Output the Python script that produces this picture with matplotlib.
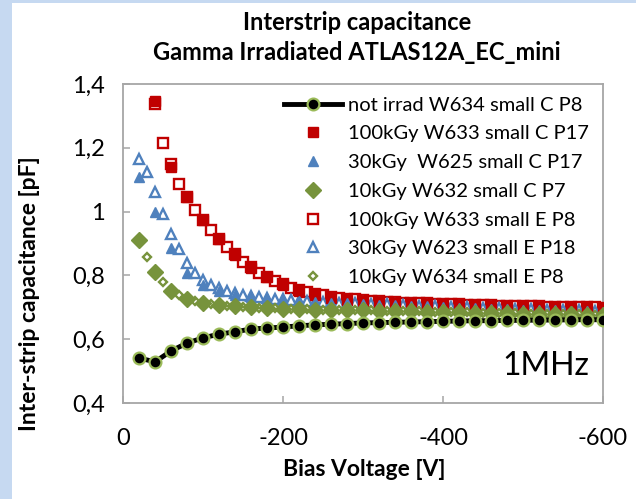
import numpy as np
import matplotlib
matplotlib.use('Agg')
import matplotlib.pyplot as plt
from matplotlib.patches import Rectangle
from matplotlib.ticker import FuncFormatter

plt.rcParams['font.family'] = ['Lato', 'DejaVu Sans']

# ---------------- data ----------------
v_c20 = np.arange(-20, -601, -20)      # -20 ... -600 step 20
v_c40 = np.arange(-40, -601, -20)      # -40 ... -600 step 20
v_e20 = np.arange(-20, -601, -10)      # -20 ... -600 step 10
v_e40 = np.arange(-40, -601, -10)      # -40 ... -600 step 10

not_irrad_W634_C = [0.541, 0.529, 0.563, 0.588, 0.604, 0.616, 0.623, 0.632, 0.635, 0.638,
                    0.642, 0.645, 0.647, 0.649, 0.651, 0.652, 0.653, 0.654, 0.655, 0.656,
                    0.657, 0.658, 0.658, 0.659, 0.659, 0.660, 0.660, 0.661, 0.661, 0.661]

kGy100_W633_C = [1.347, 1.140, 1.046, 0.974, 0.914, 0.864, 0.823, 0.795, 0.770, 0.750,
                 0.737, 0.730, 0.724, 0.720, 0.717, 0.714, 0.712, 0.710, 0.709, 0.707,
                 0.706, 0.705, 0.704, 0.703, 0.702, 0.701, 0.700, 0.699, 0.698]

kGy30_W625_C = [1.108, 0.999, 0.886, 0.808, 0.770, 0.750, 0.738, 0.731, 0.726, 0.722,
                0.719, 0.716, 0.714, 0.712, 0.710, 0.708, 0.706, 0.704, 0.703, 0.701,
                0.699, 0.698, 0.696, 0.695, 0.693, 0.692, 0.690, 0.689, 0.688, 0.686]

kGy10_W632_C = [0.911, 0.811, 0.752, 0.727, 0.714, 0.707, 0.703, 0.700, 0.698, 0.696,
                0.694, 0.693, 0.692, 0.691, 0.690, 0.689, 0.688, 0.687, 0.686, 0.685,
                0.684, 0.683, 0.682, 0.681, 0.680, 0.679, 0.679, 0.678, 0.677, 0.677]

kGy100_W633_E = [1.338, 1.215, 1.150, 1.087, 1.045, 1.005, 0.975, 0.942, 0.915, 0.889,
                 0.866, 0.842, 0.825, 0.808, 0.795, 0.781, 0.772, 0.762, 0.754, 0.747,
                 0.742, 0.737, 0.733, 0.730, 0.727, 0.725, 0.723, 0.721, 0.719, 0.718,
                 0.716, 0.715, 0.714, 0.713, 0.712, 0.711, 0.710, 0.709, 0.709, 0.708,
                 0.707, 0.707, 0.706, 0.705, 0.705, 0.704, 0.704, 0.703, 0.703, 0.702,
                 0.702, 0.701, 0.701, 0.700, 0.700, 0.700, 0.699]

kGy30_W623_E = [1.165, 1.124, 1.061, 0.992, 0.930, 0.883, 0.839, 0.808, 0.787, 0.771,
                0.759, 0.750, 0.744, 0.739, 0.735, 0.732, 0.729, 0.727, 0.725, 0.723,
                0.721, 0.720, 0.718, 0.717, 0.716, 0.715, 0.714, 0.713, 0.712, 0.711,
                0.710, 0.709, 0.708, 0.707, 0.706, 0.705, 0.704, 0.704, 0.703, 0.702,
                0.701, 0.700, 0.700, 0.699, 0.698, 0.697, 0.697, 0.696, 0.695, 0.694,
                0.694, 0.693, 0.692, 0.691, 0.691, 0.690, 0.689, 0.689, 0.688]

kGy10_W634_E = [0.905, 0.858, 0.812, 0.779, 0.755, 0.740, 0.728, 0.720, 0.714, 0.710,
                0.707, 0.705, 0.703, 0.701, 0.700, 0.699, 0.698, 0.697, 0.696, 0.695,
                0.694, 0.694, 0.693, 0.693, 0.692, 0.692, 0.691, 0.691, 0.690,
                0.690, 0.689, 0.689, 0.688, 0.688, 0.687, 0.687, 0.686, 0.686, 0.685,
                0.685, 0.684, 0.684, 0.683, 0.683, 0.682, 0.682, 0.681, 0.681, 0.680,
                0.680, 0.679, 0.679, 0.679, 0.678, 0.678, 0.678, 0.677, 0.677, 0.677]

labels = ["not irrad W634 small C P8", "100kGy W633 small C P17", "30kGy  W625 small C P17",
          "10kGy W632 small C P7", "100kGy W633 small E P8", "30kGy W623 small E P18",
          "10kGy W634 small E P8"]

x_ticks = [0, -200, -400, -600]
y_ticks = [0.4, 0.6, 0.8, 1.0, 1.2, 1.4]

RED = '#C00000'
BLUE = '#4F81BD'
GREEN = '#77933C'
LGREEN = '#9BBB59'

# ---------------- figure ----------------
W, H = 636, 499
fig = plt.figure(figsize=(W / 100, H / 100), dpi=100)
fig.patch.set_facecolor('white')
fig.patches.append(Rectangle((0, 0), 12 / W, 1, transform=fig.transFigure,
                             facecolor='#C6D9F1', edgecolor='none', zorder=0))
fig.patches.append(Rectangle((0, 1 - 3 / H), 1, 3 / H, transform=fig.transFigure,
                             facecolor='#C6D9F1', edgecolor='none', zorder=0))

ax = fig.add_axes([123 / W, 1 - 403 / H, 480 / W, 319 / H])

# E (open) series drawn first so that filled ones sit on top
h_e100, = ax.plot(v_e40, kGy100_W633_E, ls='none', marker='s', ms=6.8, mfc='white',
                  mec=RED, mew=1.7, label=labels[4], zorder=3)
h_e30, = ax.plot(v_e20, kGy30_W623_E, ls='none', marker='^', ms=7.2, mfc='white',
                 mec=BLUE, mew=1.7, label=labels[5], zorder=3)
h_e10, = ax.plot(v_e20, kGy10_W634_E, ls='none', marker='D', ms=4.2, mfc='white',
                 mec=GREEN, mew=1.7, label=labels[6], zorder=3)

h_c100, = ax.plot(v_c40, kGy100_W633_C, ls='none', marker='s', ms=7.3, mfc=RED,
                  mec=RED, label=labels[1], zorder=4)
h_c30, = ax.plot(v_c20, kGy30_W625_C, ls='none', marker='^', ms=7.3, mfc=BLUE,
                 mec=BLUE, label=labels[2], zorder=4)
h_c10, = ax.plot(v_c20, kGy10_W632_C, ls='none', marker='D', ms=7.8, mfc=GREEN,
                 mec=GREEN, label=labels[3], zorder=4)

h_not, = ax.plot(v_c20, not_irrad_W634_C, color='black', lw=3.5, marker='o', ms=8.5,
                 mfc='black', mec=LGREEN, mew=1.6, label=labels[0], zorder=5)

ax.set_xlim(0, -600)
ax.set_ylim(0.4, 1.4)
ax.set_xticks(x_ticks)
ax.set_yticks(y_ticks)
ax.xaxis.set_major_formatter(FuncFormatter(lambda v, p: f"{v:.0f}"))


def yfmt(v, p):
    s = f"{v:.1f}"
    if s.endswith('.0'):
        s = s[:-2]
    return s.replace('.', ',')


ax.yaxis.set_major_formatter(FuncFormatter(yfmt))

for sp in ax.spines.values():
    sp.set_color('#A6A6A6')
    sp.set_linewidth(1.3)
ax.tick_params(axis='both', direction='in', length=5, width=1.1, color='#A6A6A6',
               labelsize=17, labelcolor='black')
ax.tick_params(axis='x', pad=18)
ax.tick_params(axis='y', pad=13)

fig.text(357 / W, 1 - 22 / H, "Interstrip capacitance", ha='center', va='center',
         fontsize=17, fontweight='bold')
fig.text(357 / W, 1 - 52 / H, "Gamma Irradiated ATLAS12A_EC_mini", ha='center',
         va='center', fontsize=17, fontweight='bold')
fig.text(364 / W, 1 - 469 / H, "Bias Voltage [V]", ha='center', va='center',
         fontsize=16.5, fontweight='bold')
fig.text(30 / W, 1 - 294 / H, "Inter-strip capacitance [pF]", ha='center',
         va='center', rotation=90, fontsize=16.5, fontweight='bold')

ax.text(-529, 0.515, "1MHz", ha='center', va='center', fontsize=23)

handles = [h_not, h_c100, h_c30, h_c10, h_e100, h_e30, h_e10]
ax.legend(handles=handles, labels=labels, loc='upper left',
          bbox_to_anchor=(0.31, 1.0), frameon=False, fontsize=14.5,
          handlelength=2.85, handletextpad=0.3, labelspacing=0.58,
          borderpad=0.12, numpoints=1)

fig.savefig('out.png', dpi=100)
